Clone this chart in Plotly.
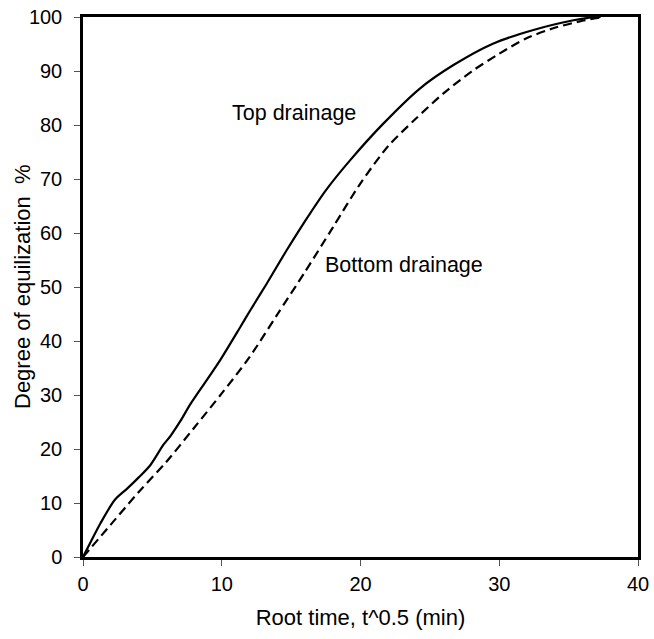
import plotly.graph_objects as go

# Top drainage (solid)
top_x = [0, 0.6, 1.25, 2.3, 3.2, 4.0, 4.85, 5.8, 6.3, 7.0, 7.74, 8.93, 9.9, 11.34, 12.06,
         13.26, 14.7, 15.9, 17.5, 19.26, 21.66, 24.3, 26.7, 29.58, 32.46, 35.35, 36.3, 37.3]
top_y = [0, 3.0, 6.2, 10.6, 12.7, 14.7, 17.0, 20.8, 22.4, 25.1, 28.3, 32.8, 36.5, 42.6, 45.7,
         50.7, 56.9, 61.8, 67.9, 73.5, 80.3, 86.8, 91.1, 95.1, 97.6, 99.4, 99.8, 100]

# Bottom drainage (dashed)
bot_x = [0, 2, 4, 6, 8, 10, 12, 14, 16, 18, 20, 22, 24, 26, 28, 30, 32, 34, 36, 37.5]
bot_y = [0, 6.0, 12.0, 17.6, 23.9, 30.3, 37.0, 44.9, 52.8, 61.0, 69.2, 76.1, 81.2, 85.9,
         89.9, 93.2, 96.1, 98.0, 99.3, 100]

labels = ["Top drainage", "Bottom drainage"]
label_pos_x = [10.6, 17.3]
label_pos_y = [82.2, 54.1]

x_title = "Root time, t^0.5 (min)"
y_title = "Degree of equilization  %"

FONT = "Liberation Sans, Arial, sans-serif"

fig = go.Figure()
fig.add_trace(go.Scatter(x=top_x, y=top_y, mode="lines",
                         line=dict(color="black", width=2.2, shape="spline", smoothing=0.8),
                         showlegend=False))
fig.add_trace(go.Scatter(x=bot_x, y=bot_y, mode="lines",
                         line=dict(color="black", width=2.2, dash="9px,5px", shape="spline", smoothing=0.8),
                         showlegend=False))

for t, ax_, ay_ in zip(labels, label_pos_x, label_pos_y):
    fig.add_annotation(x=ax_, y=ay_, text=t, showarrow=False, xanchor="left", yanchor="middle",
                       font=dict(size=21.5, color="black", family=FONT))

# y-axis title placed as rotated text
fig.add_annotation(xref="paper", yref="paper", x=0, y=0.5, xshift=-61, text=y_title,
                   textangle=-90, showarrow=False, xanchor="center", yanchor="middle",
                   font=dict(size=22, color="black", family=FONT))

fig.update_layout(
    width=654, height=639,
    margin=dict(l=83, r=16, t=17, b=82),
    plot_bgcolor="white", paper_bgcolor="white",
    font=dict(family=FONT, size=20, color="black"),
)
fig.update_xaxes(range=[0, 40], dtick=10, tick0=0, showgrid=False, zeroline=False,
                 showline=True, linecolor="black", linewidth=2.5, mirror=True,
                 ticks="outside", ticklen=6, tickwidth=1, tickcolor="#555",
                 tickfont=dict(size=20), ticklabelstandoff=1, automargin=False,
                 title=dict(text=x_title, font=dict(size=22), standoff=16))
fig.update_yaxes(range=[0, 100], dtick=10, tick0=0, showgrid=False, zeroline=False,
                 showline=True, linecolor="black", linewidth=2.5, mirror=True,
                 ticks="outside", ticklen=6, tickwidth=1, tickcolor="#555",
                 tickfont=dict(size=20), ticklabelstandoff=8, automargin=False)

fig.write_html("out.html")
